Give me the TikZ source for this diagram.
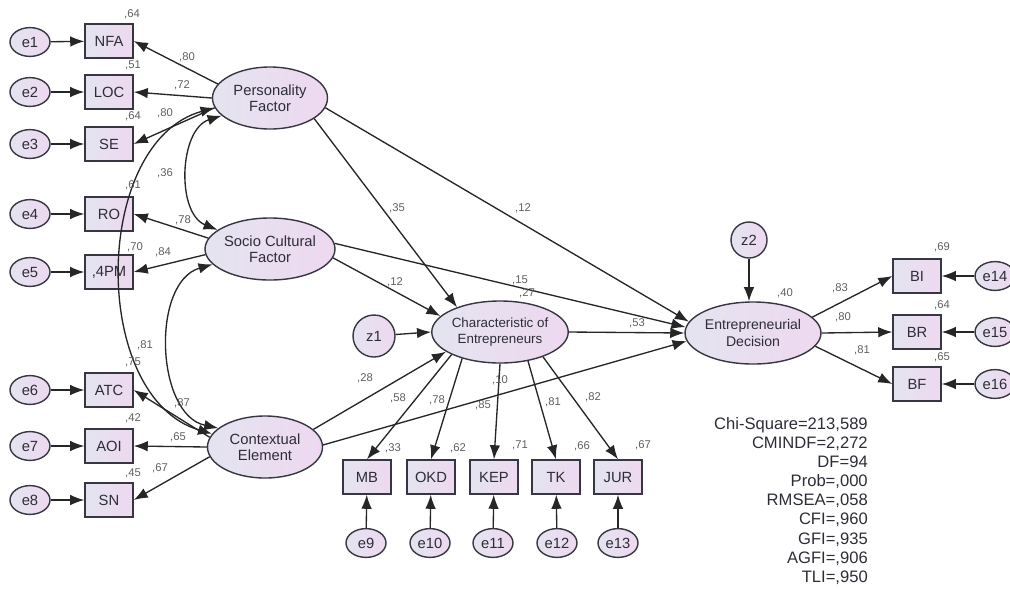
\documentclass[tikz,border=0pt]{standalone}
\usepackage{fontspec}
\setmainfont{Liberation Sans}
\usetikzlibrary{shapes.geometric, arrows.meta}

\definecolor{amosline}{RGB}{55,55,65}
\definecolor{amostext}{RGB}{45,45,55}
\definecolor{coefgray}{RGB}{95,95,95}
\definecolor{fillleft}{RGB}{228,228,240}
\definecolor{fillright}{RGB}{238,216,240}

\begin{document}
\begin{tikzpicture}[x=0.025cm, y=-0.025cm]

\tikzset{latent/.style = {shape=ellipse, draw=amosline, line width=1pt, left color=fillleft, right color=fillright, text=amostext, align=center, inner sep=0pt, minimum width=2.875cm, minimum height=1.55cm, font=\fontsize{10.5}{11.5}\selectfont}}
\tikzset{indicator/.style = {shape=rectangle, draw=amosline, line width=1pt, left color=fillleft, right color=fillright, text=amostext, minimum width=1.2cm, minimum height=0.85cm, font=\fontsize{10.5}{12}\selectfont}}
\tikzset{errvar/.style = {shape=ellipse, draw=amosline, line width=1pt, left color=fillleft, right color=fillright, text=amostext, inner sep=0pt, minimum width=1cm, minimum height=0.72cm, font=\fontsize{10.5}{12}\selectfont}}
\tikzset{disturb/.style = {shape=circle, draw=amosline, line width=1pt, left color=fillleft, right color=fillright, text=amostext, inner sep=0pt, font=\fontsize{10.5}{12}\selectfont}}
\tikzset{edge/.style = {->, > = {Latex[length=10pt,width=7.5pt]}, line width=0.95pt, draw=black!85}}
\tikzset{covar/.style = {<->, > = {Latex[length=10pt,width=7.5pt]}, line width=0.95pt, draw=black!85}}
\tikzset{coef/.style = {text=coefgray, inner sep=0pt, font=\fontsize{8}{9}\selectfont}}

\useasboundingbox (0,0) rectangle (1010,588);

%latent variables
\node[latent] (PF) at (270,98) {Personality\\Factor};
\node[latent] (SCF) at (270,249) {Socio Cultural\\Factor};
\node[latent] (CE) at (265,447) {Contextual\\Element};
\node[latent, font=\fontsize{9.5}{11}\selectfont] (CHE) at (500,332) {Characteristic of\\Entrepreneurs};
\node[latent, font=\fontsize{10}{11.5}\selectfont] (ED) at (753,333) {Entrepreneurial\\Decision};
\node[disturb, minimum size=1.05cm] (z1) at (374,336) {z1};
\node[disturb, minimum size=0.9cm] (z2) at (749,240) {z2};

%observed variables
\node[indicator] (NFA) at (109,41) {NFA};
\node[indicator] (LOC) at (109,92) {LOC};
\node[indicator] (SE) at (109,144) {SE};
\node[indicator] (RO) at (109,214) {RO};
\node[indicator] (PM) at (109,272) {,4PM};
\node[indicator] (ATC) at (109,390) {ATC};
\node[indicator] (AOI) at (109,446) {AOI};
\node[indicator] (SN) at (109,500) {SN};
\node[indicator] (MB) at (367,477) {MB};
\node[indicator] (OKD) at (431,477) {OKD};
\node[indicator] (KEP) at (494,477) {KEP};
\node[indicator] (TK) at (556,477) {TK};
\node[indicator] (JUR) at (618,477) {JUR};
\node[indicator] (BI) at (917,276) {BI};
\node[indicator] (BR) at (917,332) {BR};
\node[indicator] (BF) at (917,384) {BF};

%error terms
\node[errvar] (e1) at (30,42) {e1};
\node[errvar] (e2) at (30,92) {e2};
\node[errvar] (e3) at (30,144) {e3};
\node[errvar] (e4) at (30,214) {e4};
\node[errvar] (e5) at (30,272) {e5};
\node[errvar] (e6) at (30,390) {e6};
\node[errvar] (e7) at (30,446) {e7};
\node[errvar] (e8) at (30,500) {e8};
\node[errvar] (e9) at (366,543) {e9};
\node[errvar] (e10) at (430,543) {e10};
\node[errvar] (e11) at (493,543) {e11};
\node[errvar] (e12) at (557,543) {e12};
\node[errvar] (e13) at (618,543) {e13};
\node[errvar] (e14) at (995,276) {e14};
\node[errvar] (e15) at (995,332) {e15};
\node[errvar] (e16) at (995,384) {e16};

%errors to indicators
\draw[edge] (e1) -- (NFA);
\draw[edge] (e2) -- (LOC);
\draw[edge] (e3) -- (SE);
\draw[edge] (e4) -- (RO);
\draw[edge] (e5) -- (PM);
\draw[edge] (e6) -- (ATC);
\draw[edge] (e7) -- (AOI);
\draw[edge] (e8) -- (SN);
\draw[edge] (e9) -- (MB);
\draw[edge] (e10) -- (OKD);
\draw[edge] (e11) -- (KEP);
\draw[edge] (e12) -- (TK);
\draw[edge] (e13) -- (JUR);
\draw[edge] (e14) -- (BI);
\draw[edge] (e15) -- (BR);
\draw[edge] (e16) -- (BF);

%loadings
\draw[edge] (PF.165) -- (NFA.east);
\draw[edge] (PF.180) -- (LOC.east);
\draw[edge] (PF.190) -- (SE.east);
\draw[edge] (SCF.170) -- (RO.east);
\draw[edge] (SCF.185) -- (PM.east);
\draw[edge] (CE.170) -- (ATC.east);
\draw[edge] (CE.180) -- (AOI.east);
\draw[edge] (CE.190) -- (SN.east);
\draw[edge] (CHE.205) -- (MB.north);
\draw[edge] (CHE.215) -- (OKD.north);
\draw[edge] (CHE.270) -- (KEP.north);
\draw[edge] (CHE.314) -- (TK.north);
\draw[edge] (CHE.330) -- (JUR.north);
\draw[edge] (ED.15) -- (BI.west);
\draw[edge] (ED.0) -- (BR.west);
\draw[edge] (ED.-12) -- (BF.west);

%covariances
\draw[covar] (PF.200) to[bend right=70] (SCF.160);
\draw[covar] (SCF.195) to[bend right=76] (CE.158);
\draw[covar] (PF.190) to[bend right=74] (CE.166);

%structural paths
\draw[edge] (PF.-25) -- (CHE.150);
\draw[edge] (PF.-10) -- (ED.170);
\draw[edge] (SCF.-8) -- (CHE.165);
\draw[edge] (SCF.5) -- (ED.175);
\draw[edge] (CE.20) -- (CHE.200);
\draw[edge] (CE.2) -- (ED.187);
\draw[edge] (CHE.0) -- (ED.180);
\draw[edge] (z1) -- (CHE.180);
\draw[edge] (z2) -- (z2 |- ED.north);

%estimates
\node[coef] (r1) at (132,14) {,64};
\node[coef] (l1) at (187,57) {,80};
\node[coef] (r2) at (133,65) {,51};
\node[coef] (l2) at (182,85) {,72};
\node[coef] (r3) at (133,116) {,64};
\node[coef] (l3) at (165,113) {,80};
\node[coef] (c1) at (165,173) {,36};
\node[coef] (r4) at (133,185) {,61};
\node[coef] (l4) at (183,220) {,78};
\node[coef] (r5) at (135,247) {,70};
\node[coef] (l5) at (163,252) {,84};
\node[coef] (c2) at (145,345) {,81};
\node[coef] (c3) at (133,362) {,75};
\node[coef] (l6) at (182,403) {,87};
\node[coef] (r7) at (133,418) {,42};
\node[coef] (l7) at (178,437) {,65};
\node[coef] (r8) at (133,473) {,45};
\node[coef] (l8) at (160,468) {,67};
\node[coef] (p1) at (397,208) {,35};
\node[coef] (p2) at (523,208) {,12};
\node[coef] (p3) at (395,282) {,12};
\node[coef] (p4) at (520,280) {,15};
\node[coef] (rc) at (527,293) {,27};
\node[coef] (p5) at (637,323) {,53};
\node[coef] (p6) at (365,378) {,28};
\node[coef] (p7) at (500,380) {,10};
\node[coef] (l9) at (398,398) {,58};
\node[coef] (l10) at (437,400) {,78};
\node[coef] (l11) at (483,405) {,85};
\node[coef] (l12) at (553,402) {,81};
\node[coef] (l13) at (593,397) {,82};
\node[coef] (r9) at (393,448) {,33};
\node[coef] (r10) at (458,448) {,62};
\node[coef] (r11) at (520,445) {,71};
\node[coef] (r12) at (582,446) {,66};
\node[coef] (r13) at (643,445) {,67};
\node[coef] (re) at (785,293) {,40};
\node[coef] (l14) at (840,288) {,83};
\node[coef] (l15) at (843,317) {,80};
\node[coef] (l16) at (862,350) {,81};
\node[coef] (r14) at (942,247) {,69};
\node[coef] (r15) at (942,305) {,64};
\node[coef] (r16) at (942,357) {,65};

%fit indices
\node[anchor=north east, align=right, inner sep=0pt, text=amostext, font=\fontsize{11.8}{13.6}\selectfont] (fit) at (868,417) {Chi-Square=213,589\\CMINDF=2,272\\DF=94\\Prob=,000\\RMSEA=,058\\CFI=,960\\GFI=,935\\AGFI=,906\\TLI=,950};

\end{tikzpicture}
\end{document}
